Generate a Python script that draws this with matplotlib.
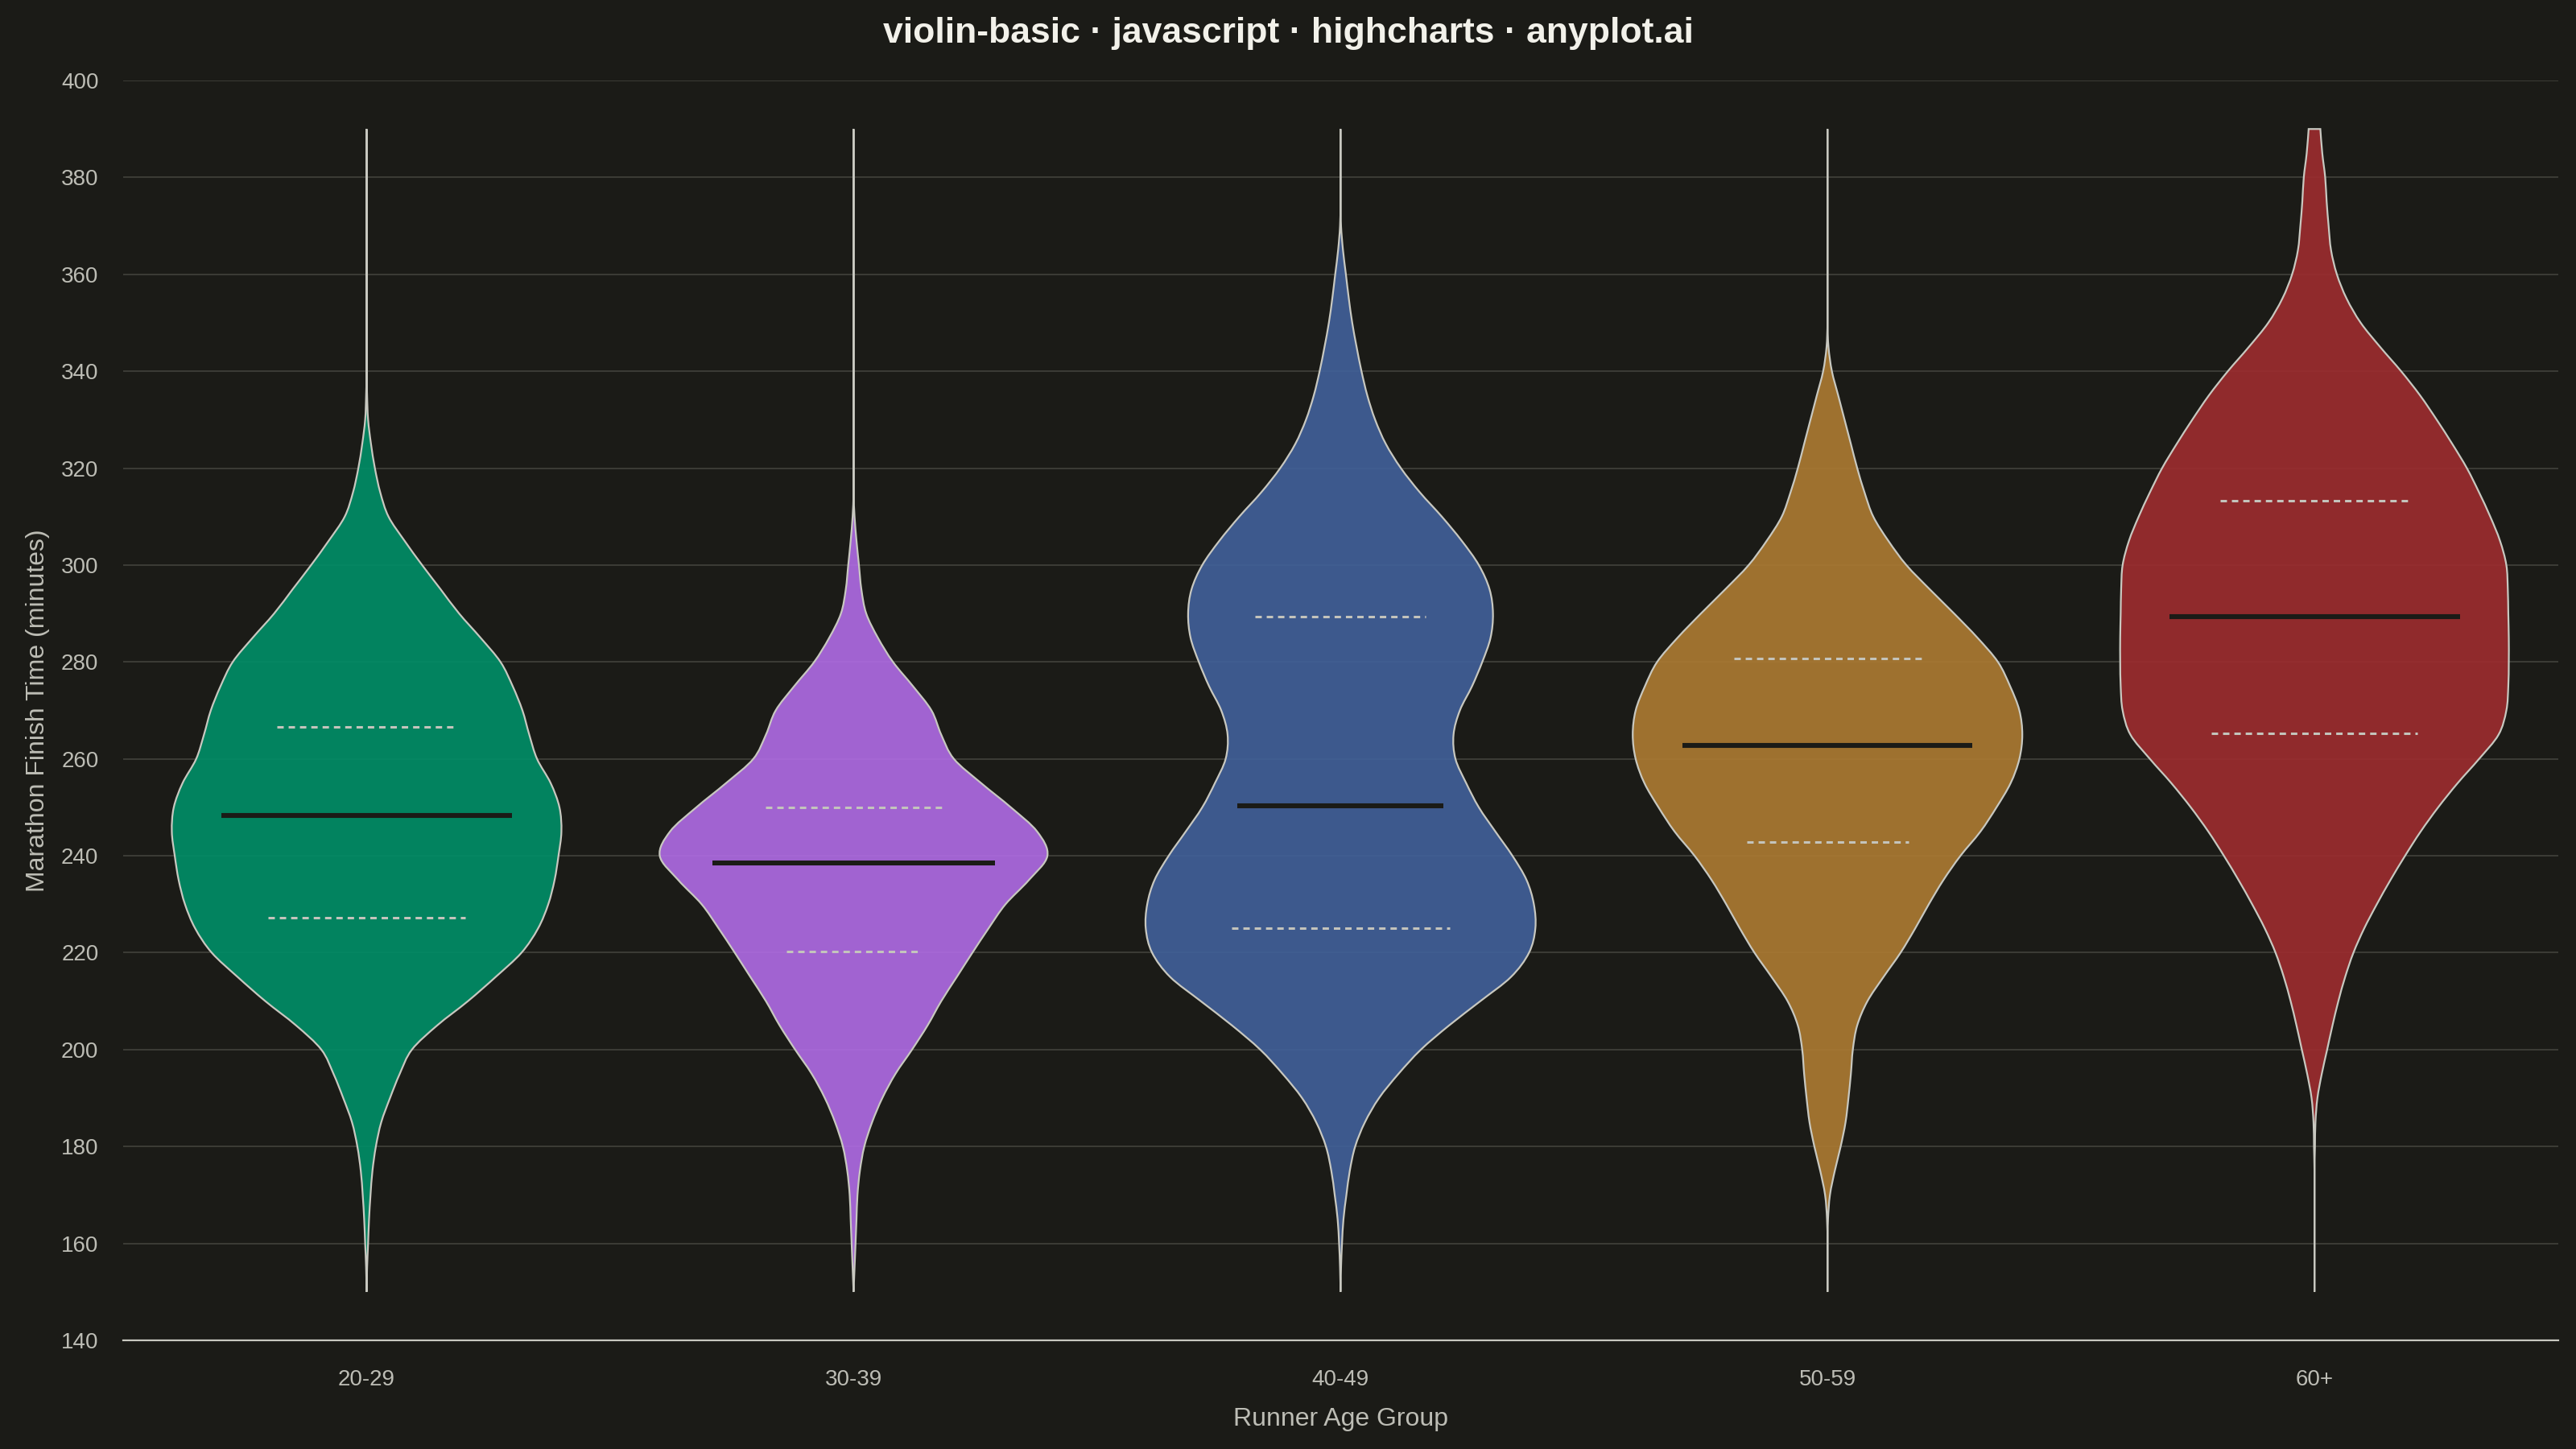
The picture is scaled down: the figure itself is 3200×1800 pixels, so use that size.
import numpy as np
import matplotlib
matplotlib.use("Agg")
import matplotlib.pyplot as plt
from matplotlib.path import Path
from matplotlib.patches import PathPatch


# Chart data
AGE_GROUPS = ["20-29", "30-39", "40-49", "50-59", "60+"]

# Finish times where the violin outline was sampled (minutes)
TIMES = [150, 155, 160, 165, 170, 175, 180, 185, 190, 195,
         200, 205, 210, 215, 220, 225, 230, 235, 240, 245,
         250, 255, 260, 265, 270, 275, 280, 285, 290, 295,
         300, 305, 310, 315, 320, 325, 330, 335, 340, 345,
         350, 355, 360, 365, 370, 375, 380, 385, 390]

# Half-width of each violin at TIMES (in category units)
WIDTH_20_29 = [0.000, 0.001, 0.003, 0.005, 0.008, 0.012, 0.019, 0.030, 0.048, 0.068,
               0.093, 0.145, 0.208, 0.265, 0.318, 0.352, 0.373, 0.386, 0.394, 0.400,
               0.396, 0.378, 0.350, 0.334, 0.320, 0.300, 0.275, 0.234, 0.190, 0.152,
               0.114, 0.078, 0.045, 0.028, 0.017, 0.009, 0.003, 0.001, 0.000, 0.000,
               0.000, 0.000, 0.000, 0.000, 0.000, 0.000, 0.000, 0.000, 0.000]
WIDTH_30_39 = [0.000, 0.002, 0.004, 0.006, 0.008, 0.013, 0.022, 0.038, 0.059, 0.086,
               0.120, 0.152, 0.180, 0.212, 0.244, 0.277, 0.312, 0.360, 0.398, 0.377,
               0.323, 0.262, 0.206, 0.180, 0.160, 0.122, 0.081, 0.050, 0.026, 0.016,
               0.011, 0.006, 0.002, 0.000, 0.000, 0.000, 0.000, 0.000, 0.000, 0.000,
               0.000, 0.000, 0.000, 0.000, 0.000, 0.000, 0.000, 0.000, 0.000]
WIDTH_40_49 = [0.000, 0.001, 0.003, 0.006, 0.012, 0.019, 0.030, 0.050, 0.079, 0.119,
               0.165, 0.223, 0.287, 0.350, 0.387, 0.400, 0.397, 0.382, 0.353, 0.318,
               0.284, 0.258, 0.236, 0.232, 0.245, 0.270, 0.291, 0.308, 0.313, 0.306,
               0.284, 0.249, 0.208, 0.163, 0.124, 0.093, 0.071, 0.055, 0.043, 0.033,
               0.024, 0.017, 0.011, 0.005, 0.001, 0.000, 0.000, 0.000, 0.000]
WIDTH_50_59 = [0.000, 0.000, 0.000, 0.001, 0.005, 0.015, 0.027, 0.037, 0.043, 0.048,
               0.052, 0.061, 0.082, 0.115, 0.150, 0.180, 0.208, 0.238, 0.273, 0.314,
               0.347, 0.376, 0.394, 0.400, 0.394, 0.375, 0.350, 0.308, 0.260, 0.210,
               0.162, 0.125, 0.094, 0.076, 0.061, 0.048, 0.035, 0.022, 0.009, 0.002,
               0.000, 0.000, 0.000, 0.000, 0.000, 0.000, 0.000, 0.000, 0.000]
WIDTH_60_PLUS = [0.000, 0.000, 0.000, 0.000, 0.000, 0.000, 0.001, 0.002, 0.006, 0.015,
                 0.026, 0.037, 0.049, 0.063, 0.080, 0.102, 0.128, 0.156, 0.186, 0.218,
                 0.254, 0.294, 0.338, 0.378, 0.394, 0.398, 0.399, 0.399, 0.398, 0.397,
                 0.394, 0.381, 0.361, 0.338, 0.313, 0.283, 0.251, 0.217, 0.178, 0.135,
                 0.095, 0.066, 0.046, 0.034, 0.029, 0.025, 0.022, 0.016, 0.012]

MEDIANS = [248.3, 238.5, 250.3, 262.8, 289.4]
Q1 = [227.3, 220.3, 225.1, 242.9, 265.2]
Q3 = [266.6, 250.0, 289.4, 280.7, 313.3]

# Styling
BG = "#1b1b17"
COLORS = ["#008f68", "#b16ce7", "#41619b", "#ad7b32", "#9e2c2f"]
OUTLINE = "#c8c8c0"
GRID = "#42423c"
TEXT = "#bdbdb5"

plt.rcParams["font.family"] = ["Liberation Sans", "DejaVu Sans"]


def smooth_side(t, w):
    """
    Catmull-Rom control points for one side of the outline.

    Returns (w, t) pairs for CURVE4 segments; control widths are kept >= 0
    so the curve never crosses the centre line.
    """
    pts = np.column_stack([w, t])
    n = len(pts)
    verts = []
    for i in range(n - 1):
        p0 = pts[i - 1] if i > 0 else pts[i]
        p1 = pts[i]
        p2 = pts[i + 1]
        p3 = pts[i + 2] if i + 2 < n else pts[i + 1]
        c1 = p1 + (p2 - p0) / 6.0
        c2 = p2 - (p3 - p1) / 6.0
        c1[0] = max(c1[0], 0.0)
        c2[0] = max(c2[0], 0.0)
        verts += [c1, c2, p2]
    return np.array(verts)


def violin_path(pos, widths):
    t = np.array(TIMES, dtype=float)
    w = np.array(widths, dtype=float)

    right = smooth_side(t, w)
    left = smooth_side(t[::-1], w[::-1])

    verts = [(pos + w[0], t[0])]
    codes = [Path.MOVETO]
    verts += [(pos + a, b) for a, b in right]
    codes += [Path.CURVE4] * len(right)
    verts.append((pos - w[-1], t[-1]))
    codes.append(Path.LINETO)
    verts += [(pos - a, b) for a, b in left]
    codes += [Path.CURVE4] * len(left)
    verts.append((pos + w[0], t[0]))
    codes.append(Path.CLOSEPOLY)
    return Path(verts, codes)


def draw_violin(ax, pos, widths, color):
    """Draw one mirrored violin centred on pos."""
    path = violin_path(pos, widths)
    ax.add_patch(PathPatch(path, facecolor=color, alpha=0.9,
                           edgecolor="none", zorder=2))
    ax.add_patch(PathPatch(path, facecolor="none", edgecolor=OUTLINE,
                           linewidth=0.8, zorder=3))


def draw_stats(ax, pos, widths, median, q1, q3):
    """Median as a dark bar, quartiles as light dashed lines."""
    t = np.array(TIMES, dtype=float)
    w = np.array(widths, dtype=float)

    half = 0.75 * np.interp(median, t, w)
    ax.plot([pos - half, pos + half], [median, median],
            color=BG, linewidth=2.2, solid_capstyle="butt", zorder=4)

    for q in (q1, q3):
        half = 0.56 * np.interp(q, t, w)
        ax.plot([pos - half, pos + half], [q, q], color="#c4c4bc",
                linewidth=1.1, linestyle=(0, (2.6, 2.0)), zorder=4)


def plot_chart():
    fig = plt.figure(figsize=(16, 9), dpi=200, facecolor=BG)
    ax = fig.add_axes([0.0478, 0.075, 0.9452, 0.8694])
    ax.set_facecolor(BG)

    all_widths = [WIDTH_20_29, WIDTH_30_39, WIDTH_40_49, WIDTH_50_59, WIDTH_60_PLUS]
    for i, widths in enumerate(all_widths):
        draw_violin(ax, i, widths, COLORS[i])
        draw_stats(ax, i, widths, MEDIANS[i], Q1[i], Q3[i])

    ax.set_xlim(-0.5, len(AGE_GROUPS) - 0.5)
    ax.set_ylim(140, 400)
    ax.set_yticks(np.arange(140, 401, 20))
    ax.set_xticks(range(len(AGE_GROUPS)))
    ax.set_xticklabels(AGE_GROUPS)

    ax.grid(axis="y", color=GRID, linewidth=0.6, zorder=0)
    ax.set_axisbelow(True)
    for side in ("top", "right", "left"):
        ax.spines[side].set_visible(False)
    ax.spines["bottom"].set_color(OUTLINE)
    ax.spines["bottom"].set_linewidth(0.8)
    ax.spines["bottom"].set_zorder(5)

    ax.tick_params(axis="both", length=0, labelsize=10, labelcolor=TEXT)
    ax.tick_params(axis="x", pad=13)
    ax.tick_params(axis="y", pad=11)

    ax.set_xlabel("Runner Age Group", fontsize=11.5, color=TEXT, labelpad=7.5)
    ax.set_ylabel("Marathon Finish Time (minutes)", fontsize=11.5, color=TEXT, labelpad=5)

    fig.suptitle("violin-basic · javascript · highcharts · anyplot.ai",
                 fontsize=16, fontweight="bold", color="#f2f1ea",
                 x=0.5, y=0.977, va="center")

    fig.savefig("out.png", dpi=200, facecolor=BG)


if __name__ == "__main__":
    plot_chart()
